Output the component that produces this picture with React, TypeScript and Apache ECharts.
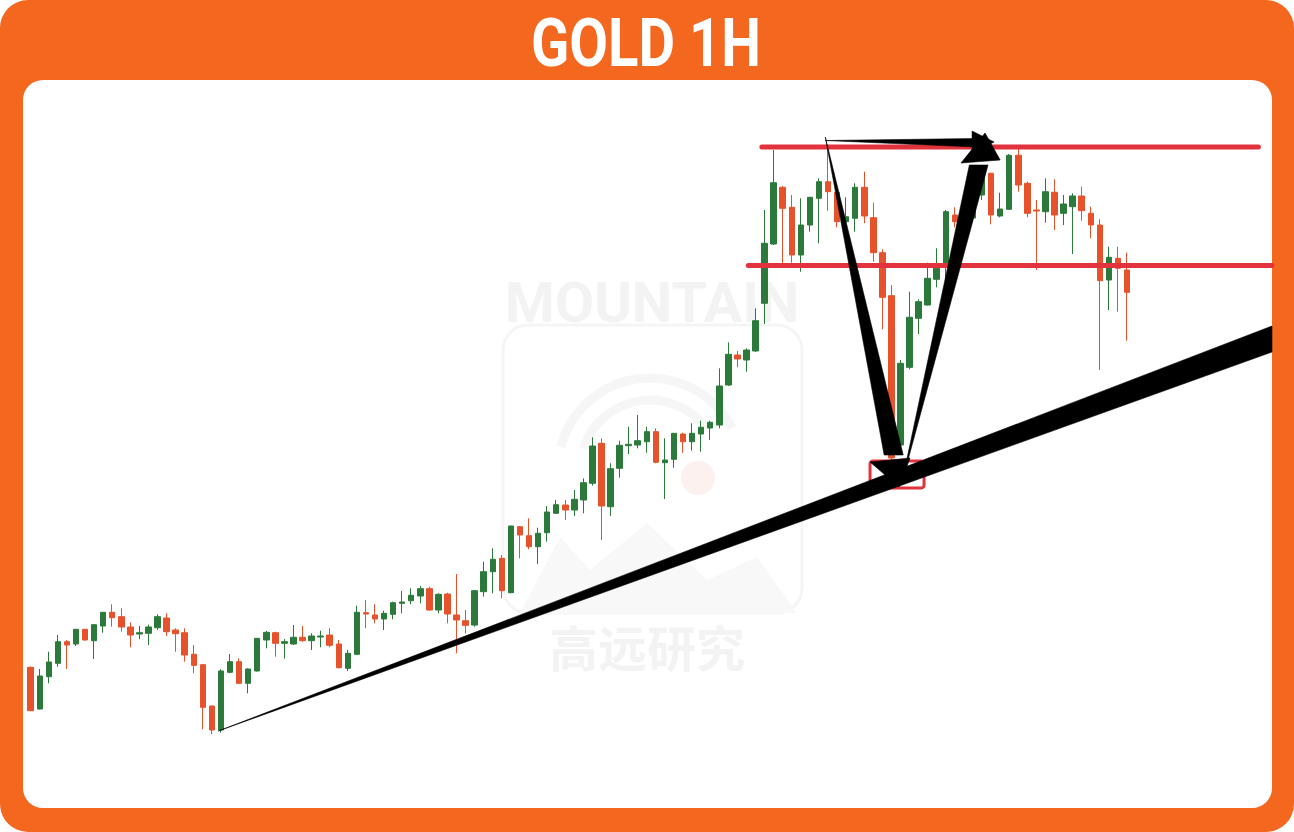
import React, { useEffect, useRef } from "react";
import * as echarts from "echarts";

// Price units (no axis is shown); each candle: [open, close, low, high]
const candles: number[][] = [
  [332.7, 289.3, 289, 333.5], [291, 324, 290.5, 331], [323.3, 338, 316.7, 348.3], [336.7, 358.3, 333.3, 365],
  [358.3, 355, 331, 360], [356, 370.7, 354, 371], [370.7, 360, 359.3, 371], [359.3, 375.3, 341, 375.5],
  [374, 387.7, 367.3, 388], [387.7, 382.3, 373.3, 395.7], [383.3, 373, 368.3, 391.7], [373, 365, 352.7, 377.7],
  [366, 367.3, 360.7, 374], [366.7, 373, 355, 375.3], [372.3, 383.3, 370, 385.7], [382, 368.3, 364, 386.7],
  [370, 366.3, 348.3, 371.7], [367.3, 345, 338.3, 371.7], [345.7, 334.7, 326.7, 355], [335.3, 292.7, 270.7, 336],
  [294, 270, 266, 294.5], [270, 329, 267.3, 330.7], [327.7, 338.3, 326.7, 346], [338.3, 316.7, 316, 341.7],
  [316.7, 331, 306.7, 331.7], [329, 361.7, 328.5, 362], [360, 367.7, 351.7, 369], [367.3, 356.7, 343.3, 368.3],
  [356.7, 358.3, 341.3, 361], [356, 362.7, 355, 375], [362.7, 359.3, 358.3, 374], [359.3, 364, 350, 366.7],
  [363, 364, 352.7, 369.3], [365, 354.7, 352.7, 371.7], [356, 332.3, 331.7, 360], [331.7, 346.7, 329, 350],
  [345.7, 387.7, 345, 394.3], [387.3, 386, 371.7, 400], [385, 381, 376.7, 395.7], [381, 386.7, 370, 389.3],
  [385.7, 397.3, 380.7, 398.3], [396.7, 398, 386.7, 409], [399.3, 404.7, 395.7, 411.7], [404, 411.3, 396.7, 414],
  [411.3, 390, 389.3, 413.3], [390, 405.7, 386.7, 406.7], [406, 386, 376.7, 407.3], [385, 380, 346.7, 426],
  [379.3, 374.7, 366.7, 390], [375, 409.3, 373.3, 410], [408.3, 428.3, 403.3, 438.3], [428.3, 440.7, 406.7, 451.7],
  [441.7, 409.3, 401.7, 445], [407.3, 474, 406.7, 474.3], [473.3, 465, 441.7, 474], [464.3, 453.3, 450.7, 481.7],
  [453.3, 466.7, 436, 472.3], [467.3, 488, 458.3, 494], [486.7, 495.3, 486, 500], [495, 490, 480, 500],
  [490, 500.7, 484, 510], [500, 517.3, 486.7, 521.7], [516.7, 554, 514.3, 562.7], [556.7, 494, 460, 561.7],
  [493.3, 531.3, 484, 536.7], [531.7, 554.7, 522.3, 559.3], [554.3, 555.7, 546, 573.3], [555, 559.3, 551.7, 585],
  [558.3, 568.3, 547.3, 573.3], [568.3, 537.7, 536.7, 571.7], [537.3, 540, 501, 561.7], [540.7, 566.7, 532.3, 567],
  [566, 558.3, 547.3, 567.3], [558.3, 566.7, 549.3, 576.7], [566, 572.7, 548.3, 579.3], [572, 577.7, 560, 579.3],
  [575, 614, 571.7, 631.7], [615, 645.7, 614, 657.7], [645, 641, 632.7, 649], [640, 650, 628.3, 651.7],
  [649, 679.3, 648.3, 691.7], [696.7, 756.7, 676, 790], [756, 817.3, 755, 850], [812.7, 791.7, 736.7, 814],
  [792.7, 745, 737.3, 805], [745, 775, 728.3, 801.7], [775, 802.7, 768.3, 803], [801.7, 818.3, 756.7, 821.7],
  [818.3, 808.3, 789.3, 855], [807.7, 778.3, 772.7, 808.3], [778.3, 783.3, 776.7, 802.7], [781.7, 812.7, 768.3, 816.7],
  [812.7, 784, 776.7, 828.3], [782.3, 747.3, 738.3, 797.3], [747.3, 702.7, 670.7, 750.7], [704.3, 542, 522, 715],
  [555, 636.7, 550, 640], [632.7, 682.7, 630.7, 708.3], [681.7, 698.3, 666, 700.7], [695, 721.7, 694.5, 737.3],
  [720.7, 731.7, 712.7, 751.7], [733.3, 788.3, 720, 790], [785, 778.3, 772.7, 792.7], [778, 795, 772, 802],
  [782, 810, 778, 815], [805, 828, 800, 832], [826.7, 785, 775.7, 827.3], [784, 791, 782.7, 807.3],
  [790.7, 844.7, 790, 846], [844.7, 815, 808.3, 851.7], [816.7, 786.7, 782.7, 818.3], [790, 789, 730, 800],
  [788.3, 808.3, 777.3, 821.7], [807.7, 785, 770, 820.7], [786.7, 796, 775, 805], [793.3, 804, 746, 806.7],
  [804, 789.3, 779.3, 813.3], [786.7, 775, 761.7, 793.3], [775, 719.3, 630, 780.7], [720, 742.7, 690, 753.3],
  [741.7, 731.7, 688.3, 753.3], [730, 707.7, 659.3, 747.3],
];

const SLOTS = 138; // candle slots on the time axis (extra empty slots on the right)
const categories = Array.from({ length: SLOTS }, (_, i) => `H${i + 1}`);

// Horizontal resistance / support levels: [index, price]
const upperLevel = [[80.7, 853], [135.5, 853]];
const lowerLevel = [[79.2, 734.5], [137.0, 734.5]];

// Rising trend line (wedge): [index, price]
const trendWedge = [[20.7, 269], [137.0, 674], [137.0, 648]];
// Arrows
const downShaft = [[87.7, 863], [94.2, 545], [96.3, 545]];
const downHead = [[92.64, 538], [97.05, 542], [95.84, 513]];
const upShaft = [[96.17, 518], [103.6, 835], [105.66, 835]];
const upHead = [[102.68, 837], [107.0, 840], [105.33, 867]];
const sideShaft = [[87.67, 859.5], [104.3, 861.5], [104.3, 853]];
const sideHead = [[103.9, 869], [106.33, 858], [103.9, 847]];
const blackShapes = [trendWedge, downShaft, downHead, upShaft, upHead, sideShaft, sideHead];

// Highlighted touch point box: [[index, price], [index, price]]
const touchBox = [[92.64, 539], [98.6, 512]];

const ORANGE = "#f4671f";
const GREEN = "#2b7a3b";
const RED = "#e5522c";
const LEVEL_RED = "#e2323c";
const WM = "#f3f3f3";

export default function App() {
  const ref = useRef<HTMLDivElement>(null);

  useEffect(() => {
    if (!ref.current) return;
    const chart = echarts.init(ref.current, undefined, { renderer: "svg" });
    const option: any = {
      animation: false,
      backgroundColor: "#ffffff",
      grid: { left: 26.17, right: 17.5, top: 80, bottom: 24, containLabel: false },
      xAxis: [
        { type: "category", data: categories, boundaryGap: true, show: false },
        { type: "value", min: -0.5, max: SLOTS - 0.5, show: false },
      ],
      yAxis: [{ type: "value", min: 192, max: 920, show: false, scale: true }],
      graphic: [
        {
          type: "rect",
          z: 0,
          shape: { x: 0, y: 0, width: 1294, height: 832, r: 28 },
          style: { fill: ORANGE },
          silent: true,
        },
        {
          type: "rect",
          z: 0,
          shape: { x: 23, y: 80, width: 1249, height: 728, r: 20 },
          style: { fill: "#ffffff" },
          silent: true,
        },
        {
          type: "text",
          z: 1,
          x: 646,
          y: 43,
          scaleX: 0.84,
          style: {
            text: "GOLD 1H",
            fill: "#ffffff",
            font: "bold 67px Roboto",
            textAlign: "center",
            textVerticalAlign: "middle",
            align: "center",
            verticalAlign: "middle",
          },
        },
        // watermark
        {
          type: "text",
          z: 1,
          x: 652,
          y: 303,
          scaleX: 1.04,
          style: {
            text: "MOUNTAIN",
            fill: WM,
            font: "bold 55px Roboto",
            textAlign: "center",
            textVerticalAlign: "middle",
            align: "center",
            verticalAlign: "middle",
          },
        },
        {
          type: "rect",
          z: 1,
          shape: { x: 503, y: 325, width: 299, height: 288, r: 25 },
          style: { fill: "none", stroke: "#f5f5f5", lineWidth: 3 },
        },
        {
          type: "arc",
          z: 1,
          shape: { cx: 650, cy: 470, r: 92, startAngle: Math.PI * 1.08, endAngle: Math.PI * 1.85 },
          style: { fill: "none", stroke: "#f6f6f6", lineWidth: 9 },
        },
        {
          type: "arc",
          z: 1,
          shape: { cx: 650, cy: 470, r: 70, startAngle: Math.PI * 1.1, endAngle: Math.PI * 1.8 },
          style: { fill: "none", stroke: "#f6f6f6", lineWidth: 9 },
        },
        {
          type: "circle",
          z: 1,
          shape: { cx: 698, cy: 478, r: 17 },
          style: { fill: "#fdf1f0" },
        },
        {
          type: "polygon",
          z: 1,
          shape: {
            points: [
              [520, 613], [560, 537], [590, 570], [647, 523], [707, 580], [757, 557], [797, 613],
            ],
          },
          style: { fill: "#f8f8f8" },
        },
        {
          type: "text",
          z: 1,
          x: 647,
          y: 645,
          style: {
            text: "高远研究",
            fill: WM,
            font: "bold 49px 'Noto Sans CJK SC'",
            textAlign: "center",
            textVerticalAlign: "middle",
            align: "center",
            verticalAlign: "middle",
          },
        },
      ],
      series: [
        {
          type: "candlestick",
          name: "GOLD 1H",
          xAxisIndex: 0,
          yAxisIndex: 0,
          z: 3,
          barWidth: 6,
          data: candles,
          itemStyle: {
            color: GREEN,
            color0: RED,
            borderColor: GREEN,
            borderColor0: RED,
            borderWidth: 1,
          },
        },
        {
          type: "line",
          xAxisIndex: 1,
          yAxisIndex: 0,
          z: 4,
          data: upperLevel,
          symbol: "none",
          lineStyle: { color: LEVEL_RED, width: 5, cap: "round" },
        },
        {
          type: "line",
          xAxisIndex: 1,
          yAxisIndex: 0,
          z: 4,
          data: lowerLevel,
          symbol: "none",
          lineStyle: { color: LEVEL_RED, width: 5, cap: "round" },
        },
        {
          type: "custom",
          xAxisIndex: 1,
          yAxisIndex: 0,
          z: 5,
          clip: false,
          data: [touchBox[0].concat(touchBox[1])],
          renderItem: (params: any, api: any) => {
            const a = api.coord([api.value(0), api.value(1)]);
            const b = api.coord([api.value(2), api.value(3)]);
            return {
              type: "rect",
              shape: { x: a[0], y: a[1], width: b[0] - a[0], height: b[1] - a[1], r: 3 },
              style: { fill: "none", stroke: LEVEL_RED, lineWidth: 3 },
            };
          },
        },
        {
          type: "custom",
          xAxisIndex: 1,
          yAxisIndex: 0,
          z: 6,
          clip: false,
          data: blackShapes.map((s, k) => [s[0][0], s[0][1], k]),
          renderItem: (params: any, api: any) => {
            const shape = blackShapes[params.dataIndex];
            return {
              type: "polygon",
              shape: { points: shape.map((p) => api.coord(p)) },
              style: { fill: "#000000", stroke: "#000000", lineWidth: 0.6 },
            };
          },
        },
      ],
    };
    chart.setOption(option);
    return () => chart.dispose();
  }, []);

  return (
    <div
      ref={ref}
      style={{ position: "fixed", left: 0, top: 0, width: 1294, height: 832 }}
    />
  );
}
